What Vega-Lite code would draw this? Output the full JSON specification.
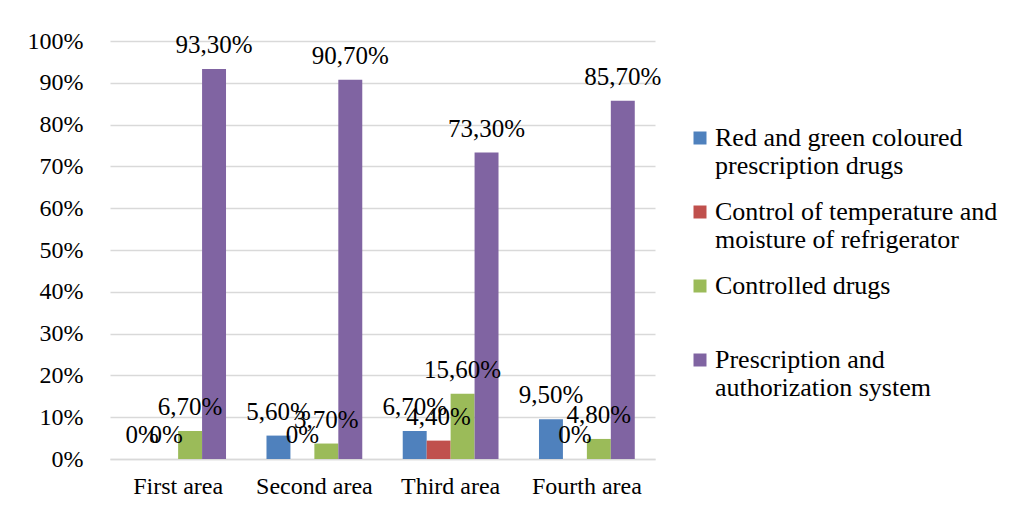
{
  "$schema": "https://vega.github.io/schema/vega-lite/v6.json",
  "width": 545,
  "height": 418,
  "autosize": "none",
  "padding": {"left": 110, "top": 41, "right": 364, "bottom": 51},
  "background": "white",
  "data": {
    "values": [
      {"area": "First area", "series": "Red and green coloured prescription drugs", "value": 0},
      {"area": "First area", "series": "Control of temperature and moisture of refrigerator", "value": 0},
      {"area": "First area", "series": "Controlled drugs", "value": 0.067},
      {"area": "First area", "series": "Prescription and authorization system", "value": 0.933},
      {"area": "Second area", "series": "Red and green coloured prescription drugs", "value": 0.056},
      {"area": "Second area", "series": "Control of temperature and moisture of refrigerator", "value": 0},
      {"area": "Second area", "series": "Controlled drugs", "value": 0.037},
      {"area": "Second area", "series": "Prescription and authorization system", "value": 0.907},
      {"area": "Third area", "series": "Red and green coloured prescription drugs", "value": 0.067},
      {"area": "Third area", "series": "Control of temperature and moisture of refrigerator", "value": 0.044},
      {"area": "Third area", "series": "Controlled drugs", "value": 0.156},
      {"area": "Third area", "series": "Prescription and authorization system", "value": 0.733},
      {"area": "Fourth area", "series": "Red and green coloured prescription drugs", "value": 0.095},
      {"area": "Fourth area", "series": "Control of temperature and moisture of refrigerator", "value": 0},
      {"area": "Fourth area", "series": "Controlled drugs", "value": 0.048},
      {"area": "Fourth area", "series": "Prescription and authorization system", "value": 0.857}
    ]
  },
  "encoding": {
    "x": {
      "field": "area",
      "type": "nominal",
      "sort": ["First area", "Second area", "Third area", "Fourth area"],
      "scale": {"paddingInner": 0.297, "paddingOuter": 0.1485},
      "axis": {
        "title": null,
        "labelAngle": 0,
        "labelFont": "Liberation Serif",
        "labelFontSize": 24,
        "labelColor": "#000000",
        "labelPadding": 15,
        "ticks": false,
        "domainColor": "#d9d9d9",
        "domainWidth": 1.5
      }
    },
    "xOffset": {
      "field": "series",
      "type": "nominal",
      "sort": ["Red and green coloured prescription drugs", "Control of temperature and moisture of refrigerator", "Controlled drugs", "Prescription and authorization system"]
    },
    "y": {
      "field": "value",
      "type": "quantitative",
      "scale": {"domain": [0, 1], "nice": false},
      "axis": {
        "title": null,
        "values": [0, 0.1, 0.2, 0.3, 0.4, 0.5, 0.6, 0.7, 0.8, 0.9, 1],
        "format": ".0%",
        "labelFont": "Liberation Serif",
        "labelFontSize": 24,
        "labelColor": "#000000",
        "labelPadding": 27,
        "ticks": false,
        "domain": false,
        "gridColor": "#d9d9d9",
        "gridWidth": 1.5
      }
    }
  },
  "layer": [
    {
      "mark": {"type": "bar"},
      "encoding": {
        "color": {
          "field": "series",
          "type": "nominal",
          "scale": {
            "domain": ["Red and green coloured prescription drugs", "Control of temperature and moisture of refrigerator", "Controlled drugs", "Prescription and authorization system"],
            "range": ["#4F81BD", "#C0504D", "#9BBB59", "#8064A2"]
          },
          "legend": {
            "title": null,
            "orient": "none",
            "legendX": 577,
            "legendY": 84,
            "symbolType": "square",
            "symbolSize": 169,
            "symbolStrokeWidth": 0,
            "labelFont": "Liberation Serif",
            "labelFontSize": 26,
            "labelColor": "#000000",
            "labelLimit": 400,
            "labelOffset": 2,
            "rowPadding": 20,
            "labelExpr": "datum.label == 'Red and green coloured prescription drugs' ? ['Red and green coloured','prescription drugs'] : datum.label == 'Control of temperature and moisture of refrigerator' ? ['Control of temperature and','moisture of refrigerator'] : datum.label == 'Prescription and authorization system' ? ['Prescription and','authorization system'] : [datum.label, '']"
          }
        }
      }
    },
    {
      "mark": {"type": "text", "font": "Liberation Serif", "fontSize": 25, "color": "#000000", "baseline": "alphabetic", "dy": -16},
      "encoding": {
        "text": {"condition": {"test": "datum.value === 0", "value": "0%"}, "field": "value", "type": "quantitative", "format": ".2%"}
      }
    }
  ],
  "config": {
    "font": "Liberation Serif",
    "locale": {"number": {"decimal": ",", "thousands": ".", "grouping": [3], "currency": ["", "€"]}},
    "view": {"stroke": null}
  }
}
